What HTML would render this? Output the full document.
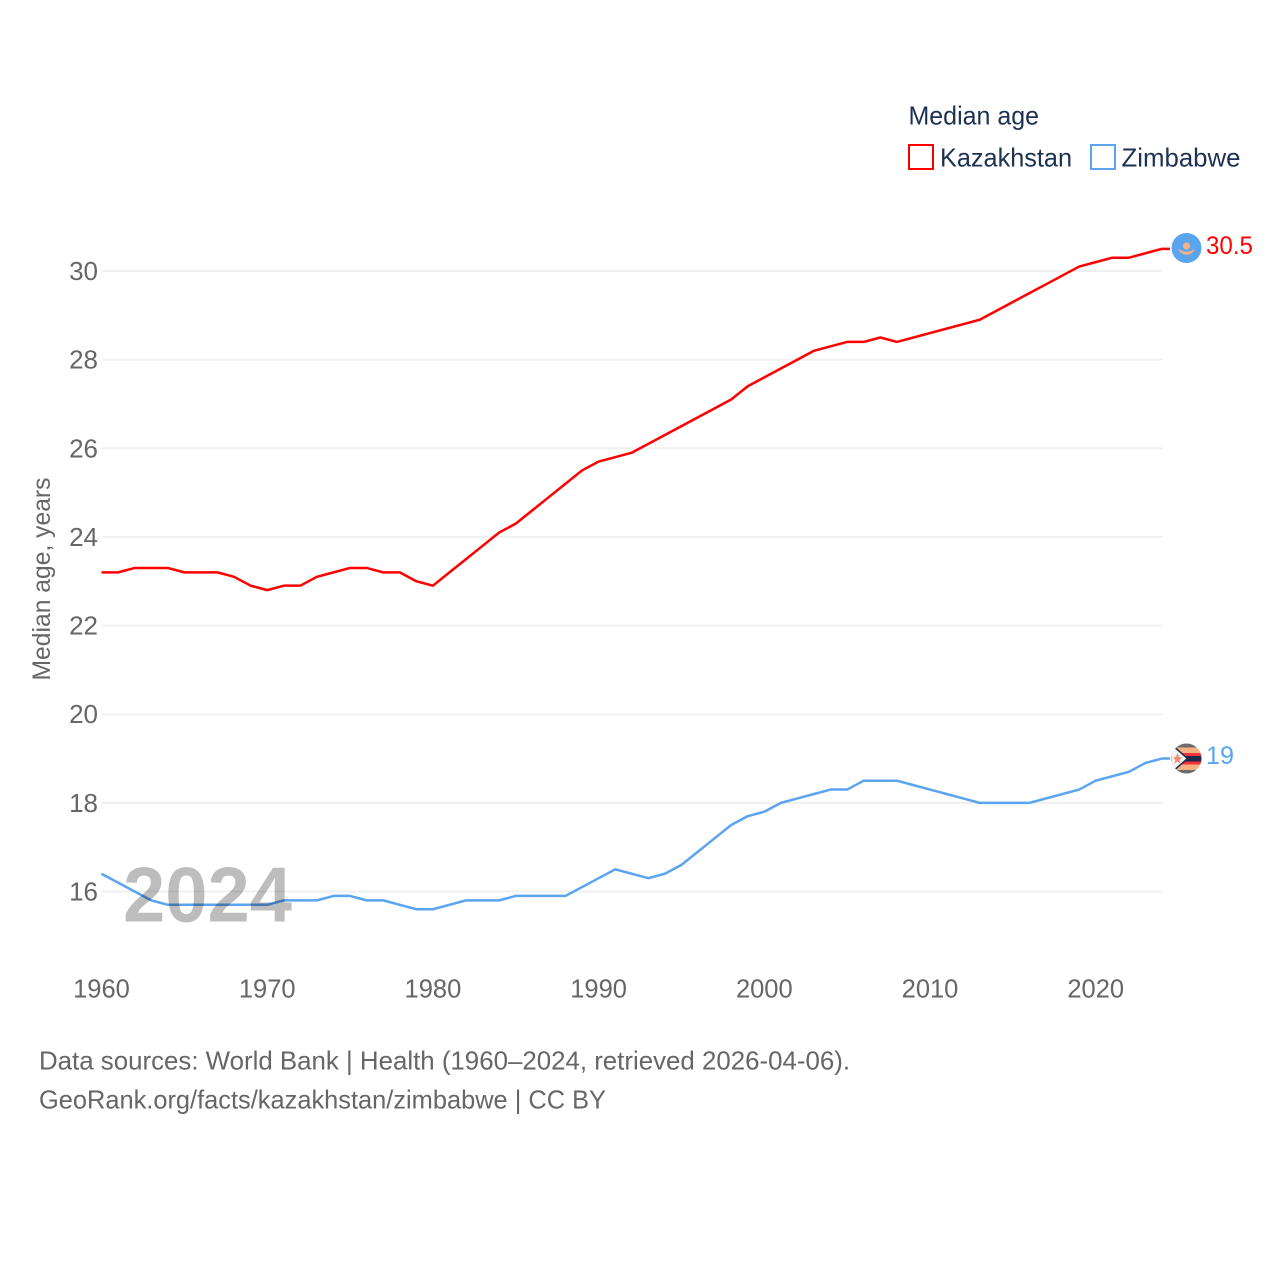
<!DOCTYPE html>
<html lang="en">
<head>
<meta charset="utf-8">
<title>Median age: Kazakhstan and Zimbabwe</title>
<style>
html,body{margin:0;padding:0;background:#fff;}
svg{display:block;font-family:"Liberation Sans",sans-serif;}
</style>
</head>
<body>
<svg id="chart" xmlns="http://www.w3.org/2000/svg" width="1280" height="1280" viewBox="0 0 1280 1280">
  <defs>
    <clipPath id="flag-clip-kz"><circle cx="1186.5" cy="248" r="15"/></clipPath>
    <clipPath id="flag-clip-zw"><circle cx="1186.5" cy="758.5" r="15"/></clipPath>
  </defs>
  <rect x="0" y="0" width="1280" height="1280" fill="#fff"/>

  <g id="grid"></g>
  <g id="y-ticks"></g>
  <g id="x-ticks"></g>
  <text transform="translate(50,579) rotate(-90)" text-anchor="middle" font-size="25" fill="#666" textLength="203" lengthAdjust="spacingAndGlyphs">Median age, years</text>

  <g id="series"></g>

  <text x="123" y="921.5" font-size="78" font-weight="700" fill="#000" fill-opacity="0.26" textLength="169" lengthAdjust="spacingAndGlyphs">2024</text>

  <g>
    <text x="908.5" y="124.5" font-size="26" fill="#1d3153" textLength="130.5" lengthAdjust="spacingAndGlyphs">Median age</text>
    <g>
      <rect x="909" y="145" width="24" height="24" fill="none" stroke="#f00" stroke-width="2"/>
      <text x="940" y="166.5" font-size="26" fill="#1d3153" textLength="132" lengthAdjust="spacingAndGlyphs">Kazakhstan</text>
    </g>
    <g>
      <rect x="1091" y="145" width="24" height="24" fill="none" stroke="#5ba4f0" stroke-width="2"/>
      <text x="1121.5" y="166.5" font-size="26" fill="#1d3153" textLength="119" lengthAdjust="spacingAndGlyphs">Zimbabwe</text>
    </g>
  </g>

  <g clip-path="url(#flag-clip-kz)">
    <rect x="1171" y="233" width="31" height="30" fill="#5ba4f0"/>
    <circle cx="1186.5" cy="246" r="3.6" fill="#f5b183"/>
    <path d="M1178 248.5 Q1186.5 255 1195 248.5 L1193 252 Q1186.5 257.5 1180 252 Z" fill="#f5b183"/>
  </g>
  <g clip-path="url(#flag-clip-zw)">
    <rect x="1171" y="743" width="31" height="4.5" fill="#6b6b6b"/>
    <rect x="1171" y="747.5" width="31" height="5.5" fill="#f5b183"/>
    <rect x="1171" y="753" width="31" height="3" fill="#f0303a"/>
    <rect x="1171" y="756" width="31" height="5.5" fill="#1d2b4a"/>
    <rect x="1171" y="761.5" width="31" height="3" fill="#f0303a"/>
    <rect x="1171" y="764.5" width="31" height="5.5" fill="#f5b183"/>
    <rect x="1171" y="770" width="31" height="4.5" fill="#6b6b6b"/>
    <path d="M1171 744 L1187.5 758.5 L1171 773 Z" fill="#f2f2f2" stroke="#1d2b4a" stroke-width="1.5"/>
    <path d="M1177.5 753 L1179 757 L1182 757.5 L1179.5 760 L1180.5 763.5 L1177.5 761.5 L1174.5 763.5 L1175.5 760 L1173 757.5 L1176 757 Z" fill="#f28a70"/>
  </g>

  <text id="value-kz" x="1206" y="254" font-size="25" fill="#f00" textLength="47" lengthAdjust="spacingAndGlyphs"></text>
  <text id="value-zw" x="1206" y="764" font-size="25" fill="#5ba4f0" textLength="28" lengthAdjust="spacingAndGlyphs"></text>

  <g>
    <text x="39" y="1069.5" font-size="26" fill="#666" textLength="811" lengthAdjust="spacingAndGlyphs">Data sources: World Bank | Health (1960–2024, retrieved 2026-04-06).</text>
    <text x="39" y="1108.5" font-size="26" fill="#666" textLength="567" lengthAdjust="spacingAndGlyphs">GeoRank.org/facts/kazakhstan/zimbabwe | CC BY</text>
  </g>
</svg>
<script>
var startYear = 1960;
var kazakhstanValues = [23.2,23.2,23.3,23.3,23.3,23.2,23.2,23.2,23.1,22.9,22.8,22.9,22.9,23.1,23.2,23.3,23.3,23.2,23.2,23.0,22.9,23.2,23.5,23.8,24.1,24.3,24.6,24.9,25.2,25.5,25.7,25.8,25.9,26.1,26.3,26.5,26.7,26.9,27.1,27.4,27.6,27.8,28.0,28.2,28.3,28.4,28.4,28.5,28.4,28.5,28.6,28.7,28.8,28.9,29.1,29.3,29.5,29.7,29.9,30.1,30.2,30.3,30.3,30.4,30.5];
var zimbabweValues = [16.4,16.2,16.0,15.8,15.7,15.7,15.7,15.7,15.7,15.7,15.7,15.8,15.8,15.8,15.9,15.9,15.8,15.8,15.7,15.6,15.6,15.7,15.8,15.8,15.8,15.9,15.9,15.9,15.9,16.1,16.3,16.5,16.4,16.3,16.4,16.6,16.9,17.2,17.5,17.7,17.8,18.0,18.1,18.2,18.3,18.3,18.5,18.5,18.5,18.4,18.3,18.2,18.1,18.0,18.0,18.0,18.0,18.1,18.2,18.3,18.5,18.6,18.7,18.9,19.0];
var yTickValues = [16,18,20,22,24,26,28,30];
var xTickYears = [1960,1970,1980,1990,2000,2010,2020];
var kazakhstanLabel = "30.5";
var zimbabweLabel = "19";

var SVG_NS = "http://www.w3.org/2000/svg";
function xScale(year) { return 101.5 + (year - 1960) * (1060.5 / 64); }
function yScale(value) { return 271 + (30 - value) * (620.5 / 14); }

var gridGroup = document.getElementById("grid");
var yTickGroup = document.getElementById("y-ticks");
var xTickGroup = document.getElementById("x-ticks");
var seriesGroup = document.getElementById("series");

yTickValues.forEach(function (v) {
  var line = document.createElementNS(SVG_NS, "line");
  
  
  line.setAttribute("x1", 102);
  line.setAttribute("x2", 1162);
  line.setAttribute("y1", yScale(v));
  line.setAttribute("y2", yScale(v));
  line.setAttribute("stroke", "#f0f0f0");
  line.setAttribute("stroke-width", "2");
  gridGroup.appendChild(line);

  var label = document.createElementNS(SVG_NS, "text");
  
  
  label.setAttribute("x", 98);
  label.setAttribute("y", yScale(v) + 9);
  label.setAttribute("text-anchor", "end");
  label.setAttribute("font-size", "26");
  label.setAttribute("fill", "#666");
  label.textContent = String(v);
  yTickGroup.appendChild(label);
});

xTickYears.forEach(function (year) {
  var label = document.createElementNS(SVG_NS, "text");
  
  
  label.setAttribute("x", xScale(year));
  label.setAttribute("y", 997.5);
  label.setAttribute("text-anchor", "middle");
  label.setAttribute("font-size", "25.5");
  label.setAttribute("fill", "#666");
  label.textContent = String(year);
  xTickGroup.appendChild(label);
});

function buildPath(values) {
  return values.map(function (v, i) {
    return (i === 0 ? "M" : "L") + xScale(startYear + i).toFixed(2) + " " + yScale(v).toFixed(2);
  }).join(" ");
}

var kazakhstanLine = document.createElementNS(SVG_NS, "path");


kazakhstanLine.setAttribute("d", buildPath(kazakhstanValues) + " h8");
kazakhstanLine.setAttribute("fill", "none");
kazakhstanLine.setAttribute("stroke", "#f00");
kazakhstanLine.setAttribute("stroke-width", "2.5");
kazakhstanLine.setAttribute("stroke-linejoin", "round");
seriesGroup.appendChild(kazakhstanLine);

var zimbabweLine = document.createElementNS(SVG_NS, "path");


zimbabweLine.setAttribute("d", buildPath(zimbabweValues) + " h8");
zimbabweLine.setAttribute("fill", "none");
zimbabweLine.setAttribute("stroke", "#5ba4f0");
zimbabweLine.setAttribute("stroke-width", "2.5");
zimbabweLine.setAttribute("stroke-linejoin", "round");
seriesGroup.appendChild(zimbabweLine);

document.getElementById("value-kz").textContent = kazakhstanLabel;
document.getElementById("value-zw").textContent = zimbabweLabel;
</script>
</body>
</html>
